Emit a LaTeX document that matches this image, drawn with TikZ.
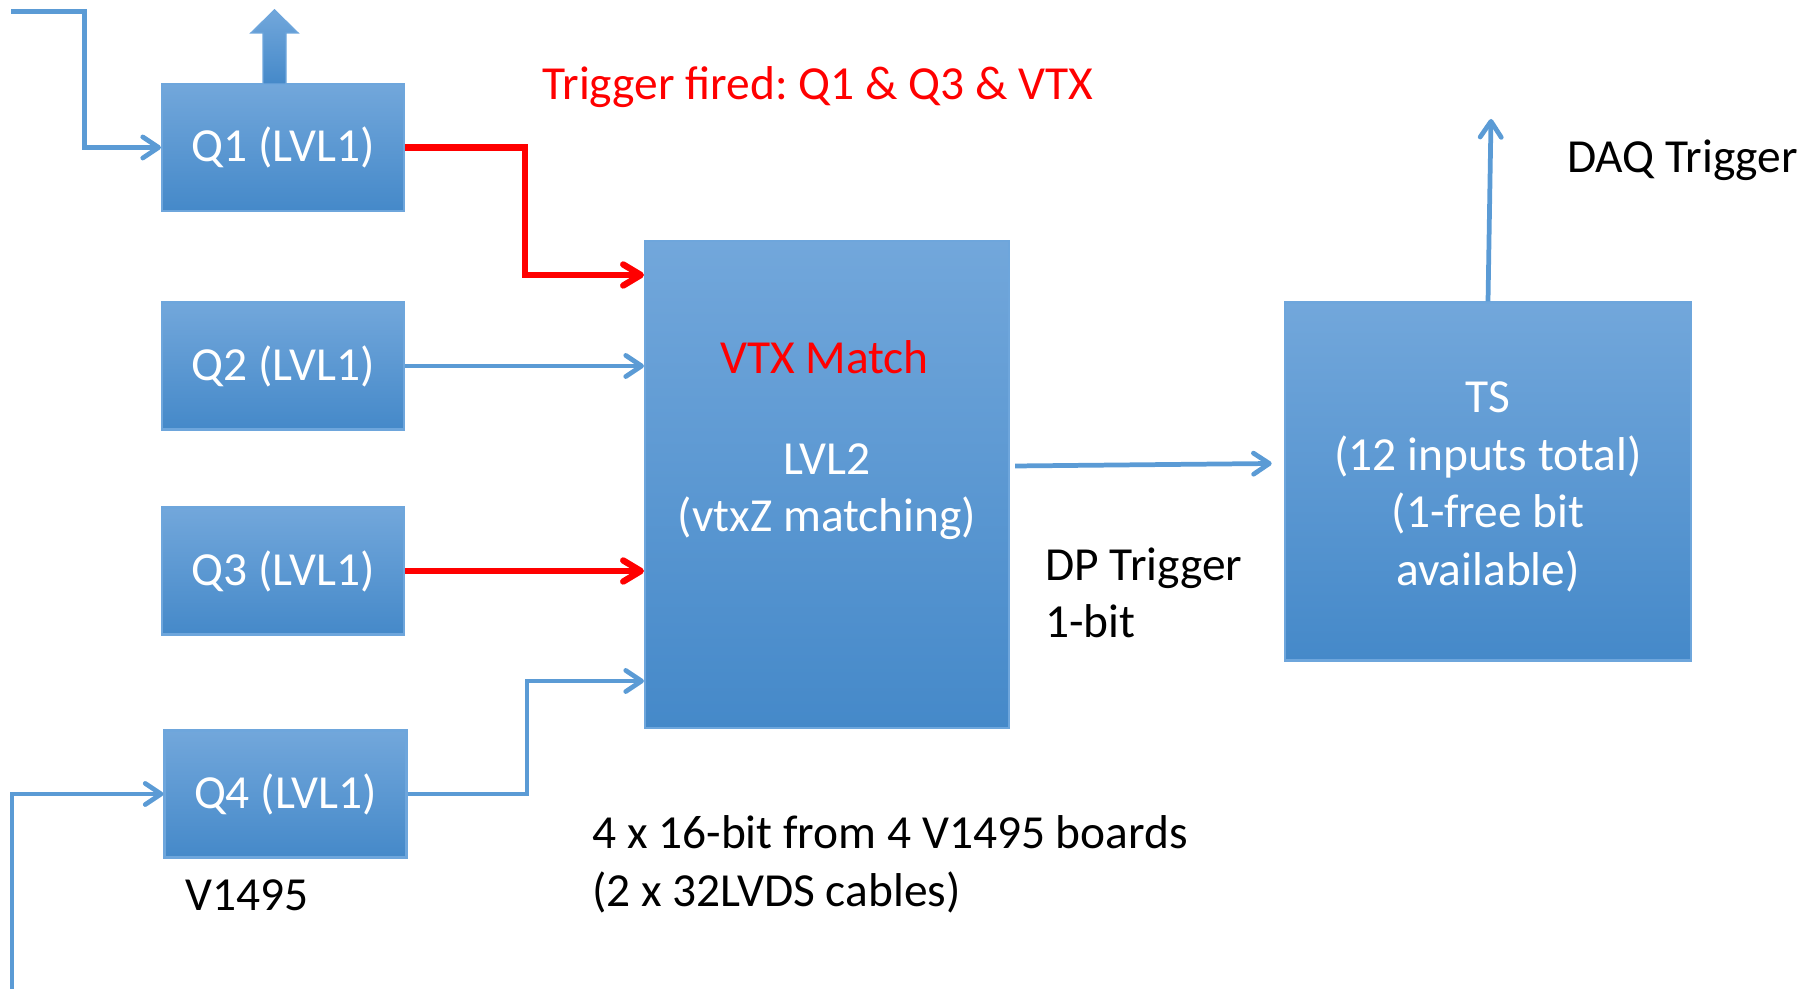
\documentclass[tikz,border=0pt]{standalone}
\usepackage{fontspec}
\setmainfont{Carlito}
\usepackage{xcolor}
\usepackage{tikz}
\usetikzlibrary{positioning,calc,arrows.meta}
\frenchspacing

\definecolor{boxtop}{RGB}{114,167,219}
\definecolor{boxbot}{RGB}{69,137,201}
\definecolor{boxedge}{RGB}{110,166,220}
\definecolor{wireblue}{RGB}{91,155,213}
\newcommand{\boxfont}{\fontsize{27}{32.7}\selectfont}

\begin{document}
\begin{tikzpicture}[
    qbox/.style={draw=boxedge, line width=1.2pt, top color=boxtop, bottom color=boxbot,
      text=white, minimum width=4.84cm, minimum height=2.54cm, inner sep=0pt, font=\boxfont},
    boxtext/.style={text=white, inner sep=0pt, font=\boxfont, align=center},
    wire/.style={draw=wireblue, line width=2.7pt, -{Straight Barb[length=9pt,width=12pt,round]}},
    hotwire/.style={draw=red, line width=3.6pt, -{Straight Barb[length=10pt,width=12pt,round]}},
    note/.style={inner sep=0pt, font=\boxfont, align=left}]
  \useasboundingbox (0,0) rectangle (36.32,19.78);

  % Level-1 boards
  \node[qbox] (q1) at (5.66,16.83) {Q1 (LVL1)};
  \node[qbox] (q2) at (5.66,12.46) {Q2 (LVL1)};
  \node[qbox] (q3) at (5.66,8.36) {Q3 (LVL1)};
  \node[qbox] (q4) at (5.71,3.90) {Q4 (LVL1)};
  \node[note, anchor=base west] (board) at (3.7,1.56) {V1495};

  % Output of Q1 (block arrow)
  \draw[draw=boxedge, line width=0.8pt, top color=boxtop, bottom color=boxbot]
    (5.26,18.10) -- (5.26,19.12) -- (5.02,19.12) -- (5.49,19.58)
    -- (5.96,19.12) -- (5.72,19.12) -- (5.72,18.10) -- cycle;

  % Level-2 and trigger supervisor
  \node[qbox, minimum width=7.28cm, minimum height=9.74cm] (lvl2) at (16.54,10.09) {};
  \node[boxtext] (lvl2txt) at ([yshift=-0.14cm]lvl2.center) {LVL2\\(vtxZ matching)};
  \node[font=\boxfont, text=red, anchor=base] (vtx) at (16.49,12.30) {VTX Match};
  \node[qbox, minimum width=8.11cm, minimum height=7.16cm] (ts) at (29.76,10.15) {};
  \node[boxtext] (tstxt) at ([yshift=-0.11cm]ts.center) {TS\\(12 inputs total)\\(1-free bit\\available)};

  % Inputs
  \coordinate (in1) at (0.23,19.55);
  \coordinate (in4) at (0.24,0);
  \draw[wire] (in1) -| ([xshift=-1.53cm]q1.west) -- (q1.west);
  \draw[wire] (in4) |- (q4.west);

  % Level-1 to level-2
  \coordinate (j1) at (10.5,14.28);
  \coordinate (j4) at (10.54,6.16);
  \draw[hotwire] (q1.east) -| (j1) -- (j1 -| lvl2.west);
  \draw[wire] (q2.east) -- (q2.east -| lvl2.west);
  \draw[hotwire] (q3.east) -- (q3.east -| lvl2.west);
  \draw[wire] (q4.east) -| (j4) -- (j4 -| lvl2.west);

  % Level-2 to TS, TS out
  \coordinate (daq) at (29.82,17.4);
  \draw[wire] ([shift={(0.1,0.37)}]lvl2.east) -- ([shift={(-0.25,0.36)}]ts.west);
  \draw[wire] (ts.north) -- (daq);

  % Labels
  \node[note, anchor=base west, text=red] (fired) at (10.84,17.78) {Trigger fired: Q1 \& Q3 \& VTX};
  \node[note, anchor=base west] (daqlbl) at (31.34,16.32) {DAQ Trigger};
  \node[note, anchor=west] (dplbl) at (20.9,7.92) {DP Trigger\\1-bit};
  \node[note, anchor=west] (cables) at (11.84,2.49) {4 x 16-bit from 4 V1495 boards\\(2 x 32LVDS cables)};
\end{tikzpicture}
\end{document}
